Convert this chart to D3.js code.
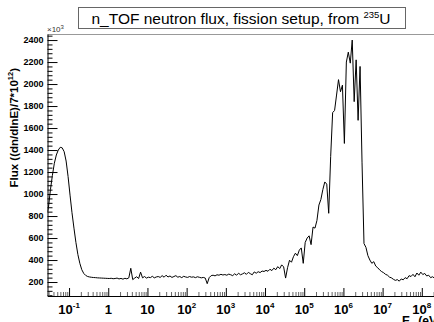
<!DOCTYPE html>
<html>
<head>
<meta charset="utf-8">
<script src="https://cdn.jsdelivr.net/npm/d3@7"></script>
<style>
  body { margin: 0; background: #fff; }
  svg { display: block; font-family: "Liberation Sans", Arial, Helvetica, sans-serif; }
</style>
</head>
<body>
<div id="my_dataviz"></div>
<script>
// histogram bins in log10(E / eV), flux in units of 10^3
var binStart = -1.55, binWidth = 0.05;
var flux = [
  880, 1040, 1170, 1280, 1355, 1400, 1425, 1420, 1385, 1300,
  1160, 990, 830, 690, 560, 450, 370, 312, 278, 260,
  250, 246, 243, 241, 240, 238, 237, 236, 235, 234,
  233, 232, 234, 230, 232, 236, 228, 233, 226, 234,
  229, 238, 325, 222, 236, 248, 232, 290, 238, 250,
  236, 244, 240, 252, 238, 246, 250, 242, 258, 244,
  262, 246, 255, 242, 250, 258, 244, 250, 240, 252,
  246, 242, 250, 244, 247, 240, 248, 243, 238, 242,
  236, 185, 240, 258, 262, 256, 266, 262, 270, 264,
  268, 262, 272, 266, 258, 275, 262, 280, 266, 274,
  284, 270, 288, 276, 266, 292, 280, 294, 286, 300,
  296, 306, 298, 316, 304, 326, 312, 340, 322, 356,
  338, 236, 330, 398, 380, 430, 462, 440, 490, 510,
  370, 560, 600, 620, 540, 700, 690, 760, 900, 950,
  1040, 1110, 1090, 825, 1340, 1740, 1760, 1900, 2040, 1930,
  1990, 1460, 2200, 2290, 2190, 2400, 1840, 2220, 1670, 2160,
  1290, 550, 515, 440, 400, 370, 385, 345, 330, 310,
  295, 285, 270, 262, 245, 238, 225, 215, 222, 208,
  228, 220, 240, 230, 258, 250, 270, 248, 282, 262,
  290, 268, 278, 255, 262, 240, 248, 235, 242
];

var yMajor = [200, 400, 600, 800, 1000, 1200, 1400, 1600, 1800, 2000, 2200, 2400];
var xDecades = [-1, 0, 1, 2, 3, 4, 5, 6, 7, 8];
var xLabels = [["10", "-1"], ["1", ""], ["10", ""], ["10", "2"], ["10", "3"],
               ["10", "4"], ["10", "5"], ["10", "6"], ["10", "7"], ["10", "8"]];

var W = 434, H = 322;
var frame = {left: 47.5, right: 441, top: 34, bottom: 296};

var svg = d3.select("#my_dataviz").append("svg")
    .attr("width", W).attr("height", H);

var x = d3.scaleLog().domain([Math.pow(10, -1.55), Math.pow(10, 8.49)])
    .range([frame.left, frame.right]);
var y = d3.scaleLinear().domain([73, 2455]).range([frame.bottom, frame.top]);

// clip for the histogram
svg.append("clipPath").attr("id", "clip").append("rect")
    .attr("x", frame.left).attr("y", frame.top)
    .attr("width", frame.right - frame.left).attr("height", frame.bottom - frame.top);

// bin centres
var pts = flux.map(function(v, i) { return [Math.pow(10, binStart + (i + 0.5) * binWidth), v]; });
pts.unshift([Math.pow(10, binStart), flux[0] - 40]);

var line = d3.line()
    .x(function(d) { return x(d[0]); })
    .y(function(d) { return y(d[1]); });

svg.append("path")
    .attr("clip-path", "url(#clip)")
    .attr("d", line(pts))
    .attr("fill", "none")
    .attr("stroke", "#000")
    .attr("stroke-width", 1);

// top frame line
svg.append("line")
    .attr("x1", frame.left).attr("x2", W)
    .attr("y1", frame.top + 0.5).attr("y2", frame.top + 0.5)
    .attr("stroke", "#999");

// Y axis - minor ticks
var yMinor = d3.range(80, 2455, 40).filter(function(v) { return v % 200 !== 0; });
svg.append("g")
    .attr("transform", "translate(" + frame.left + ",0)")
    .call(d3.axisLeft(y).tickValues(yMinor).tickSize(-5).tickFormat(""))
    .call(function(g) { g.select(".domain").remove(); });

// Y axis - major
var yAx = svg.append("g")
    .attr("transform", "translate(" + frame.left + ",0)")
    .call(d3.axisLeft(y).tickValues(yMajor).tickSizeInner(-10).tickSizeOuter(0)
        .tickPadding(4).tickFormat(d3.format("d")));
yAx.selectAll("text")
    .style("font-family", "'Liberation Sans', Arial, sans-serif")
    .style("font-size", "9px").style("font-weight", "bold");

// X axis - minor ticks
var xMinor = [];
xDecades.concat([-2]).forEach(function(dd) {
    for (var m = 2; m <= 9; m++) {
        var v = m * Math.pow(10, dd);
        if (v > x.domain()[0] && v < x.domain()[1]) xMinor.push(v);
    }
});
svg.append("g")
    .attr("transform", "translate(0," + frame.bottom + ")")
    .call(d3.axisBottom(x).tickValues(xMinor).tickSize(-4).tickFormat(""))
    .call(function(g) { g.select(".domain").remove(); g.selectAll("line").attr("stroke", "#666"); });

// X axis - major
svg.append("g")
    .attr("transform", "translate(0," + frame.bottom + ")")
    .call(d3.axisBottom(x).tickValues(xDecades.map(function(d) { return Math.pow(10, d); }))
        .tickSizeInner(-8).tickSizeOuter(0).tickFormat(""));

// X tick labels with exponents
var xl = svg.append("g").attr("font-weight", "bold");
xDecades.forEach(function(dd, i) {
    var t = xl.append("text")
        .attr("x", x(Math.pow(10, dd)))
        .attr("y", 314)
        .attr("text-anchor", "middle")
        .attr("font-size", 13);
    t.append("tspan").text(xLabels[i][0]);
    if (xLabels[i][1]) {
        t.append("tspan").attr("font-size", 8).attr("dy", -6).text(xLabels[i][1]);
    }
});

// x10^3 multiplier
var mult = svg.append("text").attr("x", 47).attr("y", 32).attr("font-size", 8).attr("fill", "#333");
mult.append("tspan").text("\u00d710");
mult.append("tspan").attr("font-size", 6).attr("dy", -3).text("3");

// X axis title
var xt = svg.append("text")
    .attr("x", 441).attr("y", 325)
    .attr("text-anchor", "end")
    .attr("font-size", 12).attr("font-weight", "bold");
xt.append("tspan").text("E");
xt.append("tspan").attr("font-size", 8).attr("dy", 3).text("n");
xt.append("tspan").attr("dy", -3).text(" (eV)");

// Y axis title
var yt = svg.append("text")
    .attr("transform", "translate(18,68) rotate(-90)")
    .attr("text-anchor", "end")
    .attr("font-size", 11.5).attr("font-weight", "bold");
yt.append("tspan").text("Flux ((dn/dlnE)/7*10");
yt.append("tspan").attr("font-size", 7.5).attr("dy", -5).text("12");
yt.append("tspan").attr("dy", 5).text(")");

// title box
svg.append("rect")
    .attr("x", 78.5).attr("y", 7.5).attr("width", 327).attr("height", 21)
    .attr("fill", "#fff").attr("stroke", "#666");
var tt = svg.append("text")
    .attr("x", 241).attr("y", 24)
    .attr("text-anchor", "middle")
    .attr("font-size", 15.5);
tt.append("tspan").text("n_TOF neutron flux, fission setup, from ");
tt.append("tspan").attr("font-size", 9.5).attr("dy", -6).text("235");
tt.append("tspan").attr("dy", 6).text("U");
</script>
</body>
</html>
